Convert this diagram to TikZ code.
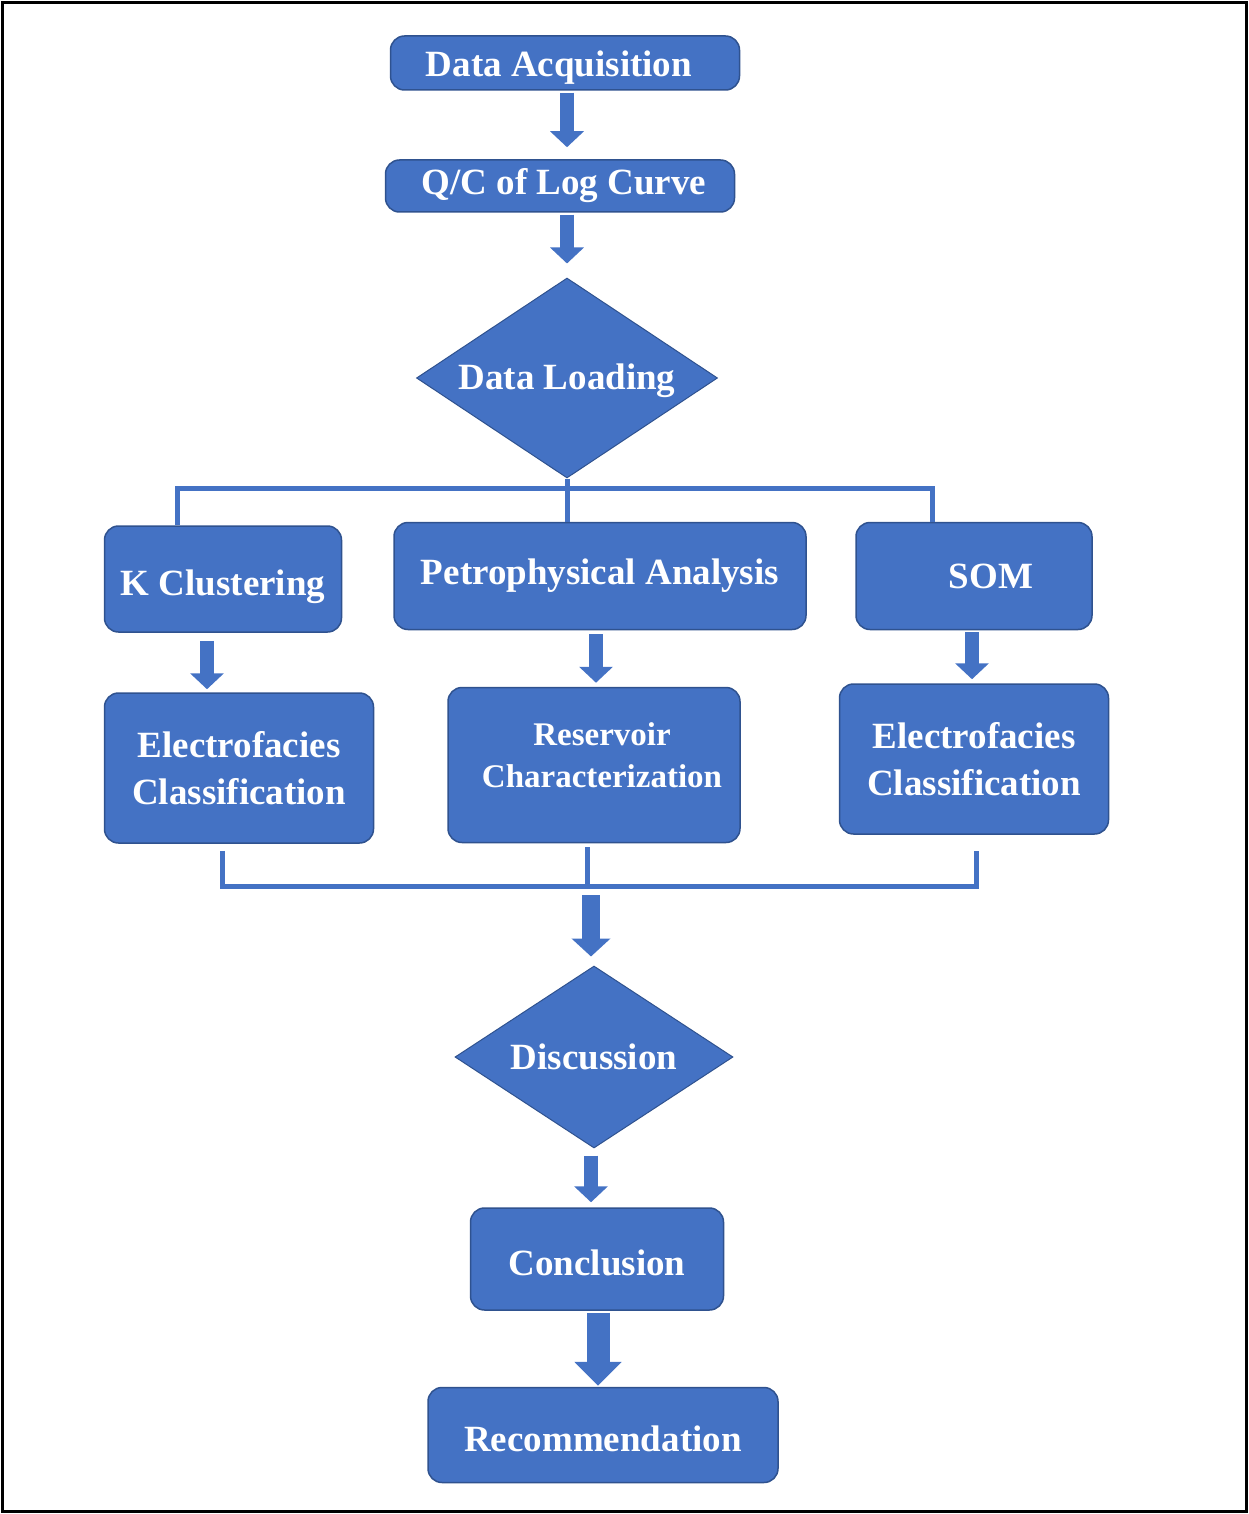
\documentclass[tikz,border=0pt]{standalone}
\usepackage{fontspec}
\setmainfont{Liberation Serif}[BoldFont={Liberation Serif Bold}]
\usetikzlibrary{shapes.geometric,arrows.meta,calc}
\definecolor{boxblue}{HTML}{4472C4}
\definecolor{edgeblue}{HTML}{2F528F}
\begin{document}
\begin{tikzpicture}[x=1pt,y=-1pt,
  stepbox/.style={rectangle,rounded corners=14pt,fill=boxblue,draw=edgeblue,line width=1.5pt,inner sep=0pt,text=white,align=center,font=\fontsize{37}{47}\selectfont\bfseries},
  dia/.style={diamond,fill=boxblue,draw=edgeblue,line width=1pt,inner sep=0pt},
  diatext/.style={text=white,font=\fontsize{37}{47}\selectfont\bfseries,inner sep=0pt},
  barrow/.style={draw=boxblue,line width=14pt,-{Triangle[width=33pt,length=16pt]}},
  branch/.style={draw=boxblue,line width=5pt}]
\useasboundingbox (0,0) rectangle (1249,1514);
\draw[line width=3pt,black] (2.5,2.5) rectangle (1246.5,1511.5);

\node[stepbox,minimum width=349pt,minimum height=54pt,text height=35pt,text depth=8pt] (da) at (565,63) {\hspace*{-12pt}Data Acquisition};
\node[stepbox,minimum width=349pt,minimum height=52pt] (qc) at (560,186) {\hspace*{8pt}Q/C of Log Curve};
\node[dia,minimum width=301pt,minimum height=200pt] (dl) at (567,378) {};
\node[diatext,yshift=-3pt] at (dl) {Data Loading};

\node[stepbox,minimum width=237pt,minimum height=106pt,text height=42pt,text depth=10pt] (kc) at (223,579) {K Clustering};
\node[stepbox,minimum width=412pt,minimum height=107pt] (pa) at (600,576) {Petrophysical Analysis};
\node[stepbox,minimum width=236pt,minimum height=107pt] (som) at (974,576) {\hspace*{34pt}SOM};

\node[stepbox,minimum width=269pt,minimum height=150pt] (ec1) at (239,768) {Electrofacies\\Classification};
\node[stepbox,minimum width=292pt,minimum height=155pt] (rc) at (594,765) {};
\node[text=white,align=center,inner sep=0pt,font=\fontsize{33}{42}\selectfont\bfseries,xshift=8pt,yshift=10pt] at (rc) {Reservoir\\Characterization};
\node[stepbox,minimum width=269pt,minimum height=150pt] (ec2) at (974,759) {Electrofacies\\Classification};

\node[dia,minimum width=278pt,minimum height=182pt] (disc) at (594,1057) {};
\node[diatext] at (disc) {Discussion};

\node[stepbox,minimum width=253pt,minimum height=102pt,text height=32pt,text depth=0pt] (con) at (597,1259) {Conclusion};
\node[stepbox,minimum width=350pt,minimum height=95pt,text height=32pt,text depth=0pt] (rec) at (603,1435) {Recommendation};

% arrows down the top
\draw[barrow] ([xshift=2pt,yshift=-2pt]da.south) -- ([xshift=7pt,yshift=12pt]qc.north);
\draw[barrow] ([xshift=7pt,yshift=-2pt]qc.south) -- ([yshift=14pt]dl.north);

% branch line
\coordinate (bk) at (177,488);
\coordinate (bs) at (932,488);
\draw[branch] (dl.south) -- (dl.south |- pa.north);
\draw[branch] (kc.north -| bk) -- (bk) -- (bs) -- (som.north -| bs);

% arrows to second row
\draw[barrow] ([xshift=-16pt,yshift=-8pt]kc.south) -- ([xshift=-32pt,yshift=3pt]ec1.north);
\draw[barrow] ([xshift=-4pt,yshift=-4pt]pa.south) -- ([xshift=2pt,yshift=4pt]rc.north);
\draw[barrow] ([xshift=-2pt,yshift=-2pt]som.south) -- ([xshift=-2pt,yshift=4pt]ec2.north);

% merge line
\coordinate (ml) at (222,886);
\coordinate (mr) at (976,886);
\coordinate (mg) at (591,886);
\draw[branch] ([yshift=-7pt]ec1.south -| ml) -- (ml) -- (mr) -- ([yshift=-16pt]ec2.south -| mr);
\draw[branch] ([xshift=-7pt,yshift=-4pt]rc.south) -- ([xshift=-7pt]rc.south |- mg);

\draw[barrow,line width=18pt,-{Triangle[width=38pt,length=18pt]}] ([yshift=-9pt]mg) -- ([yshift=9pt]mg |- disc.north);
\draw[barrow] ([xshift=-3pt,yshift=-7pt]disc.south) -- ([xshift=-6pt,yshift=5pt]con.north);
\draw[barrow,line width=23pt,-{Triangle[width=46pt,length=24pt]}] ([xshift=1pt,yshift=-2pt]con.south) -- ([xshift=-5pt,yshift=1pt]rec.north);
\end{tikzpicture}
\end{document}
